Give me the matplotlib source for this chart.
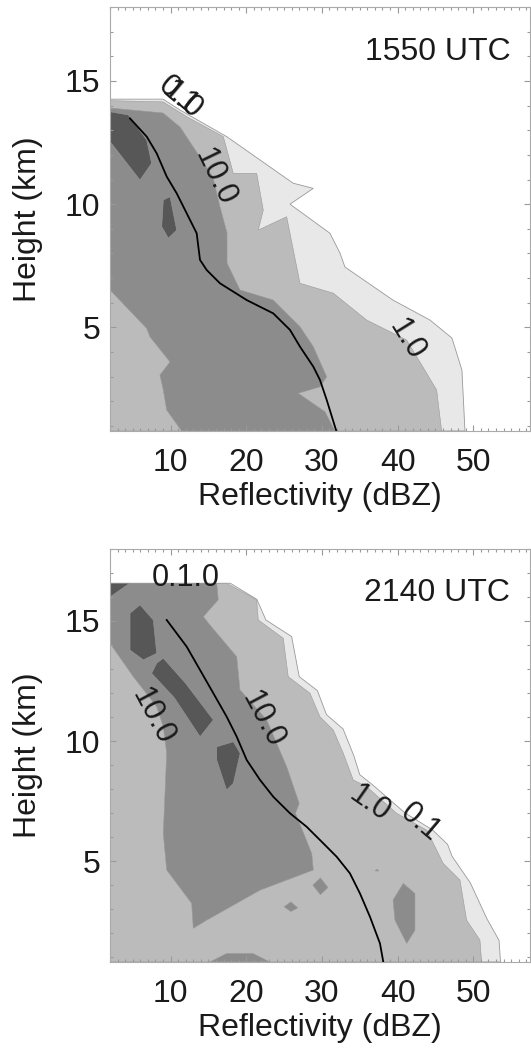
import matplotlib
matplotlib.use('Agg')
import matplotlib.pyplot as plt
from matplotlib.ticker import MultipleLocator

plt.rcParams['font.family'] = ['Liberation Sans', 'DejaVu Sans']

# ---- 1550 UTC : frequency region edges (dBZ, km) ----
e_x01 = [2, 9.0, 11.25, 17.42, 26.2, 28.86, 25.78, 31.06, 32.38, 33.04, 39.38, 44.27, 47.18, 48.5, 48.9, 2]
e_h01 = [14.26, 14.26, 13.82, 12.74, 10.85, 10.64, 10.0, 8.82, 8.02, 7.45, 6.11, 5.3, 4.57, 3.27, 0.8, 0.8]
e_x1 = [2, 9.0, 12.13, 16.97, 18.29, 21.38, 22.25, 21.59, 25.34, 27.1, 31.5, 35.91, 41.19, 43.84, 45.16, 45.82, 2]
e_h1 = [14.2, 14.15, 13.55, 12.74, 11.25, 11.25, 9.76, 8.95, 9.49, 6.79, 6.39, 5.3, 4.49, 3.14, 2.46, 0.8, 0.8]
e_x10 = [2, 9.0, 11.25, 13.89, 15.6, 16.53, 17.46, 17.46, 19.17, 23.57, 27.1, 28.86, 30.63, 29.74, 26.87,
         30.4, 31.72, 11.47, 9.49, 9.04, 8.6, 9.93, 7.28, 6.85, 2]
e_h10 = [13.9, 13.7, 13.13, 11.91, 11.1, 9.89, 8.83, 7.61, 6.52, 6.11, 5.03, 4.22, 3.0, 2.59, 2.33,
         1.58, 0.8, 0.8, 1.65, 2.46, 3.07, 3.6, 4.62, 4.96, 6.52]
e_dark = [([2, 4.42, 6.85, 7.5, 5.96, 2], [13.75, 13.62, 12.6, 11.66, 10.98, 12.54]),
          ([9.04, 9.93, 10.81, 9.7, 8.83], [10.17, 10.3, 8.95, 8.62, 9.09])]
e_mean_x = [4.64, 6.85, 8.17, 9.49, 10.81, 12.13, 13.45, 13.89, 14.77, 16.53, 20.06, 23.57, 25.78, 27.1,
            28.86, 29.74, 30.63, 31.9]
e_mean_h = [13.48, 12.74, 12.06, 11.12, 10.44, 9.63, 8.82, 7.74, 7.33, 6.79, 6.11, 5.57, 4.9, 4.22,
            3.41, 2.87, 2.06, 0.8]

# ---- 2140 UTC ----
l_x01 = [2, 17.9, 21.4, 22.6, 26.0, 27.0, 29.4, 30.6, 32.8, 34.2, 35.0, 36.6, 41.0, 44.6, 46.6, 47.2,
         49.6, 51.8, 53.4, 53.6, 2]
l_h01 = [16.57, 16.57, 15.9, 15.04, 14.35, 12.68, 12.1, 11.1, 10.5, 9.4, 8.6, 8.2, 7.0, 6.3, 5.7, 5.2,
         4.1, 2.6, 1.7, 0.8, 0.8]
l_x1 = [2, 17.4, 21.38, 21.59, 24.89, 25.55, 28.42, 29.74, 31.5, 32.82, 34.14, 35.91, 39.87, 43.84,
        45.16, 46.03, 48.24, 49.12, 50.88, 51.1, 2]
l_h1 = [16.57, 16.57, 15.88, 15.04, 14.28, 12.68, 11.99, 11.01, 10.46, 9.49, 8.38, 8.10, 6.99, 6.29,
        5.46, 4.9, 4.21, 2.54, 1.71, 0.8, 0.8]
l_x10 = [2, 16.1, 16.3, 14.33, 15.2, 18.74, 19.17, 22.7, 25.34, 27.0, 26.5, 28.65, 28.86, 21.82, 14.77,
         13.0, 12.79, 9.49, 9.04, 9.49, 9.04, 8.17, 5.08, 2]
l_h10 = [16.57, 16.57, 15.88, 15.18, 14.83, 13.51, 12.13, 10.88, 8.93, 7.4, 7.0, 5.32, 4.63, 3.79, 2.54,
         2.2, 3.24, 4.63, 6.15, 9.49, 10.6, 11.43, 12.68, 14.07]
l_mid_islands = [([39.4, 40.75, 42.29, 42.29, 41.2, 39.65], [3.38, 4.07, 3.65, 2.12, 1.57, 2.54]),
                 ([28.8, 29.8, 30.8, 29.8], [4.0, 4.3, 3.9, 3.6]),
                 ([25.0, 25.9, 26.8, 25.9], [3.1, 3.3, 3.05, 2.9]),
                 ([15.2, 17.4, 20.9, 23.1], [0.8, 1.15, 1.15, 0.8]),
                 ([37.0, 37.3, 37.5], [4.6, 4.66, 4.58])]
l_dark = [([2, 4.6, 2], [16.57, 16.57, 16.0]),
          ([4.64, 5.96, 7.72, 8.17, 6.40, 4.64], [15.32, 15.67, 15.04, 13.65, 13.38, 13.79]),
          ([7.5, 8.17, 9.04, 12.0, 15.65, 13.9, 10.5], [12.82, 13.24, 13.45, 12.4, 10.88, 10.18, 11.8]),
          ([16.1, 18.3, 19.2, 18.3, 17.4, 16.1], [9.76, 9.97, 9.49, 8.24, 7.96, 9.21])]
l_mean_x = [9.49, 12.13, 13.89, 15.65, 17.42, 18.74, 20.06, 21.82, 23.57, 25.78, 27.98, 30.18, 31.95,
            33.7, 35.03, 36.35, 37.67, 38.11]
l_mean_h = [15.04, 13.93, 12.96, 11.99, 11.01, 10.18, 9.21, 8.38, 7.68, 6.99, 6.43, 5.74, 5.18, 4.49,
            3.65, 2.68, 1.57, 0.8]

shades = ['#e8e8e8', '#bbbbbb', '#8c8c8c', '#575757']
edge = '#999999'
txt = '#1a1a1a'

fig = plt.figure(figsize=(5.31, 10.55), dpi=100)
ax1 = fig.add_axes([0.2072, 0.5915, 0.791, 0.4019])
ax2 = fig.add_axes([0.2072, 0.0882, 0.791, 0.3915])


def setup(ax, title, ty):
    ax.set_xlim(2, 57.5)
    ax.set_ylim(0.8, 18)
    ax.set_xticks([10, 20, 30, 40, 50])
    ax.set_yticks([5, 10, 15])
    ax.xaxis.set_minor_locator(MultipleLocator(1))
    ax.yaxis.set_minor_locator(MultipleLocator(1))
    ax.tick_params(which='both', direction='in', top=True, right=True, color='#999999', width=0.8,
                   labelcolor=txt)
    ax.tick_params(which='major', length=4)
    ax.tick_params(which='minor', length=2)
    ax.tick_params(axis='x', labelsize=23, pad=12)
    ax.tick_params(axis='y', labelsize=23, pad=7)
    for s in ax.spines.values():
        s.set_color('#aaaaaa')
        s.set_linewidth(0.8)
    ax.set_xlabel('Reflectivity (dBZ)', fontsize=23, color=txt)
    ax.set_ylabel('Height (km)', fontsize=23, color=txt)
    ax.xaxis.label.set_va('center')
    ax.yaxis.label.set_va('center')
    ax.text(0.953, ty, title, transform=ax.transAxes, ha='right', va='center', fontsize=23, color=txt)


setup(ax1, '1550 UTC', 0.893)
ax1.xaxis.set_label_coords(0.5, -0.156)
ax1.yaxis.set_label_coords(-0.195, 0.5)

ax1.fill(e_x01, e_h01, color=shades[0], ec=edge, lw=0.6)
ax1.fill(e_x1, e_h1, color=shades[1], ec=edge, lw=0.4)
ax1.fill(e_x10, e_h10, color=shades[2], ec=edge, lw=0.4)
for xs, hs in e_dark:
    ax1.fill(xs, hs, color=shades[3], ec=edge, lw=0.4)
ax1.plot(e_mean_x, e_mean_h, color='k', lw=1.3)
ax1.text(11.0, 14.4, '0.1', rotation=-40, fontsize=22, ha='center', va='center', color=txt)
ax1.text(11.5, 14.2, '1.0', rotation=-40, fontsize=22, ha='center', va='center', color=txt)
ax1.text(15.9, 11.1, '10.0', rotation=-64, fontsize=22, ha='center', va='center', color=txt)
ax1.text(41.2, 4.5, '1.0', rotation=-58, fontsize=22, ha='center', va='center', color=txt)

setup(ax2, '2140 UTC', 0.893)
ax2.xaxis.set_label_coords(0.5, -0.16)
ax2.yaxis.set_label_coords(-0.195, 0.5)

ax2.fill(l_x01, l_h01, color=shades[0], ec=edge, lw=0.6)
ax2.fill(l_x1, l_h1, color=shades[1], ec=edge, lw=0.4)
ax2.fill(l_x10, l_h10, color=shades[2], ec=edge, lw=0.4)
for xs, hs in l_mid_islands:
    ax2.fill(xs, hs, color=shades[2], ec=edge, lw=0.4)
for xs, hs in l_dark:
    ax2.fill(xs, hs, color=shades[3], ec=edge, lw=0.4)
ax2.plot(l_mean_x, l_mean_h, color='k', lw=1.3)
ax2.text(12.0, 16.8, '0.1.0', fontsize=22, ha='center', va='center', color=txt)
ax2.text(7.7, 11.0, '10.0', rotation=-62, fontsize=22, ha='center', va='center', color=txt)
ax2.text(22.2, 10.9, '10.0', rotation=-62, fontsize=22, ha='center', va='center', color=txt)
ax2.text(36.3, 7.4, '1.0', rotation=-35, fontsize=22, ha='center', va='center', color=txt)
ax2.text(43.0, 6.6, '0.1', rotation=-40, fontsize=22, ha='center', va='center', color=txt)

fig.savefig('out.png', dpi=100)
